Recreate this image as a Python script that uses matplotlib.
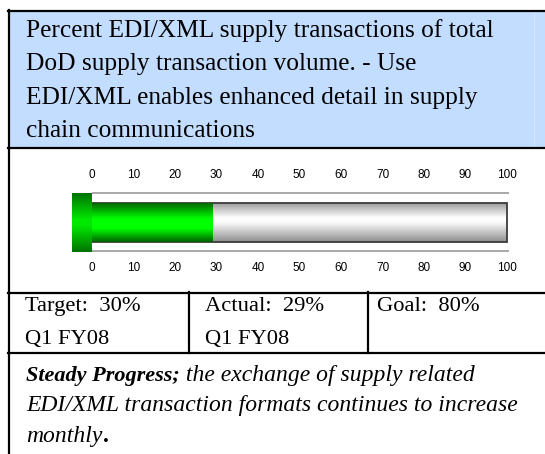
import numpy as np
import matplotlib
matplotlib.use("Agg")
import matplotlib.pyplot as plt
from matplotlib.colors import LinearSegmentedColormap
from matplotlib.patches import Rectangle

# ---------------- data ----------------
title_lines = [
    "Percent EDI/XML supply transactions of total",
    "DoD supply transaction volume. - Use",
    "EDI/XML enables enhanced detail in supply",
    "chain communications",
]
scale_ticks = [0, 10, 20, 30, 40, 50, 60, 70, 80, 90, 100]
scale_min = 0
scale_max = 100
actual_value = 29
cell_top = ["Target:  30%", "Actual:  29%", "Goal:  80%"]
cell_bottom = ["Q1 FY08", "Q1 FY08", ""]
comment_bold = "Steady Progress;"
comment_rest = [" the exchange of supply related",
                "EDI/XML transaction formats continues to increase",
                "monthly"]
comment_end = "."

# ---------------- figure ----------------
W, H = 545, 454
fig = plt.figure(figsize=(W / 100, H / 100), dpi=100)
bg = fig.add_axes([0, 0, 1, 1])
bg.set_xlim(0, W)
bg.set_ylim(H, 0)
bg.axis("off")

SERIF = ["Liberation Serif", "DejaVu Serif"]
SANS = ["Liberation Sans", "DejaVu Sans"]

# header box
bg.add_patch(Rectangle((9, 10), W - 9, 137, facecolor="#C2DDFF", edgecolor="none", zorder=1))
bg.plot([534, 534], [11, 146], color="#D6E7FF", lw=0.8, zorder=2)

lw = 1.6
bg.plot([8, W], [10.5, 10.5], color="black", lw=lw, zorder=3)
bg.plot([8.7, 8.7], [10, H], color="black", lw=lw, zorder=3)
bg.plot([8, W], [147.5, 147.5], color="black", lw=lw, zorder=3)
bg.plot([8, W], [292.5, 292.5], color="black", lw=lw, zorder=3)
bg.plot([8, W], [353, 353], color="black", lw=lw, zorder=3)
bg.plot([189, 189], [292, 353], color="black", lw=lw, zorder=3)
bg.plot([368, 368], [292, 353], color="black", lw=lw, zorder=3)

# header text
for i, line in enumerate(title_lines):
    bg.text(26, 37 + i * 33.3, line, fontsize=18.3, family=SERIF,
            va="baseline", ha="left", zorder=4)

# table cells
cell_x = [25, 205, 377]
for x, t, b in zip(cell_x, cell_top, cell_bottom):
    bg.text(x, 311, t, fontsize=16.2, family=SERIF, va="baseline", zorder=4)
    if b:
        bg.text(x, 344, b, fontsize=16.2, family=SERIF, va="baseline", zorder=4)

# comment text
fig.canvas.draw()
renderer = fig.canvas.get_renderer()
inv = bg.transData.inverted()
t0 = bg.text(26, 381, comment_bold, fontsize=16, family=SERIF, style="italic",
             weight="bold", va="baseline", zorder=4)
bb = t0.get_window_extent(renderer)
x_end = inv.transform((bb.x1, bb.y0))[0]
bg.text(x_end, 381, comment_rest[0], fontsize=17, family=SERIF, style="italic",
        va="baseline", zorder=4)
bg.text(26, 411, comment_rest[1], fontsize=17, family=SERIF, style="italic",
        va="baseline", zorder=4)
t3 = bg.text(26, 442, comment_rest[2], fontsize=17, family=SERIF, style="italic",
             va="baseline", zorder=4)
bb3 = t3.get_window_extent(renderer)
x3 = inv.transform((bb3.x1, bb3.y0))[0]
bg.text(x3 + 1, 442, comment_end, fontsize=17, family=SERIF, weight="bold",
        va="baseline", zorder=4)

# ---------------- gauge ----------------
px0, px100 = 92.0, 507.0          # pixel positions of 0 and 100
ax_left, ax_right = 60.0, 525.0
ax_top, ax_bottom = 193.0, 252.0
ppu = (px100 - px0) / (scale_max - scale_min)
xmin = scale_min + (ax_left - px0) / ppu
xmax = scale_min + (ax_right - px0) / ppu

ax = fig.add_axes([ax_left / W, 1 - ax_bottom / H, (ax_right - ax_left) / W,
                   (ax_bottom - ax_top) / H])
ax.set_xlim(xmin, xmax)
ax.set_ylim(0, 1)
for s in ax.spines.values():
    s.set_visible(False)
ax.set_yticks([])
ax.patch.set_alpha(0)

# track lines
ax.hlines([0.995, 0.01], scale_min, scale_max + 0.6, color="#A8A8A8", lw=1.4, clip_on=False, zorder=1)

yb0, yb1 = 0.17, 0.83
t = np.linspace(0, 1, 256)

# grey background bar
grey_profile = np.interp(t, [0, 0.08, 0.5, 0.62, 0.9, 1.0], [0.55, 0.62, 0.98, 1.0, 0.72, 0.6])
grey_img = np.repeat(grey_profile[:, None], 2, axis=1)
ax.imshow(grey_img, cmap="gray", vmin=0, vmax=1, origin="lower", aspect="auto",
          extent=(scale_min, scale_max, yb0, yb1), zorder=2, interpolation="bilinear")
ax.add_patch(Rectangle((scale_min, yb0), scale_max - scale_min, yb1 - yb0,
                       facecolor="none", edgecolor="#3C3C3C", lw=1.3, zorder=4))

# green value bar
green_cmap = LinearSegmentedColormap.from_list("g", ["#006000", "#00FF00"])
green_profile = np.interp(t, [0, 0.35, 0.6, 1.0], [0.0, 1.0, 1.0, 0.05])
green_img = np.repeat(green_profile[:, None], 2, axis=1)
ax.imshow(green_img, cmap=green_cmap, vmin=0, vmax=1, origin="lower", aspect="auto",
          extent=(scale_min, actual_value, yb0, yb1), zorder=5, interpolation="bilinear")

# green cap
cap_w = (px0 - 72.0) / ppu
cap_cmap = LinearSegmentedColormap.from_list("c", ["#006400", "#00E800"])
cap_profile = np.interp(t, [0, 0.45, 0.55, 1.0], [0.1, 1.0, 1.0, 0.1])
cap_img = np.repeat(cap_profile[:, None], 2, axis=1)
ax.imshow(cap_img, cmap=cap_cmap, vmin=0, vmax=1, origin="lower", aspect="auto",
          extent=(scale_min - cap_w, scale_min, 0, 1), zorder=6, interpolation="bilinear")

ax.set_xlim(xmin, xmax)
ax.set_ylim(0, 1)

# ticks
ax.set_xticks(scale_ticks)
ax.set_xticklabels([str(v) for v in scale_ticks], family=SANS, fontsize=8.5)
ax.tick_params(axis="x", length=0, pad=7, bottom=True, labelbottom=True)
sec = ax.secondary_xaxis("top")
sec.set_xticks(scale_ticks)
sec.set_xticklabels([str(v) for v in scale_ticks], family=SANS, fontsize=8.5)
sec.tick_params(axis="x", length=0, pad=8.5)
for s in sec.spines.values():
    s.set_visible(False)

fig.savefig("out.png", dpi=100)
